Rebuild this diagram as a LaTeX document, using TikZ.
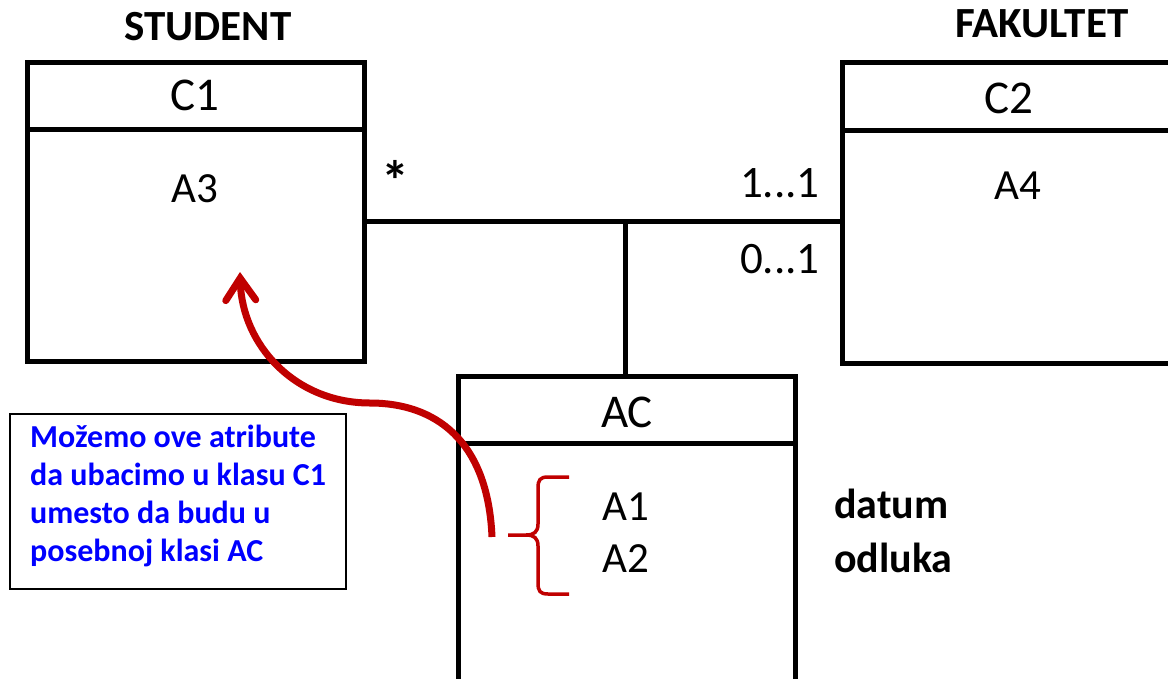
\documentclass[tikz,border=0pt]{standalone}
\usepackage{fontspec}
\setmainfont{Carlito}
\usetikzlibrary{arrows.meta}
\definecolor{darkred}{RGB}{192,0,0}
\definecolor{noteblue}{RGB}{0,0,255}
\tikzset{
  box/.style={draw=black,line width=5pt,line join=miter},
  conn/.style={draw=black,line width=5pt},
  cname/.style={inner sep=0pt,anchor=base,font=\fontsize{47}{52}\selectfont},
  attr/.style={inner sep=0pt,anchor=base,font=\fontsize{43}{48}\selectfont},
  title/.style={inner sep=0pt,anchor=base,font=\bfseries\fontsize{43}{48}\selectfont},
  mult/.style={inner sep=0pt,anchor=base east,font=\fontsize{45}{50}\selectfont},
  extra/.style={inner sep=0pt,anchor=base west,font=\bfseries\fontsize{42}{48}\selectfont},
  redline/.style={draw=darkred,line width=7pt},
  bracestyle/.style={draw=darkred,line width=3.5pt},
}
\begin{document}
\begin{tikzpicture}[x=1pt,y=-1pt]
\useasboundingbox (0,0) rectangle (1168,678);
\clip (0,0) rectangle (1168,678);
% class boxes
\draw[box] (27,62) rectangle (364,361);
\draw[box] (27,129) -- (364,129);
\draw[box] (842,62) rectangle (1190,363);
\draw[box] (842,130) -- (1190,130);
\draw[box] (458,376) rectangle (795,700);
\draw[box] (458,443) -- (795,443);
% association anchors
\coordinate (c1r) at (364,221);
\coordinate (c2l) at (842,221);
\coordinate (mid) at (625,221);
\coordinate (actop) at (625,376);
\draw[conn] (c1r) -- (c2l);
\draw[conn] (mid) -- (actop);
% titles
\node[title] (student) at (208,40) {STUDENT};
\node[title] (fakultet) at (1042,37) {FAKULTET};
% class names and attributes
\node[cname] (c1) at (195,110) {C1};
\node[attr] (a3) at (195,202) {A3};
\node[cname] (c2) at (1009,113) {C2};
\node[attr] (a4) at (1018,199) {A4};
\node[cname] (ac) at (627,427) {AC};
\node[attr] (a1) at (626,520) {A1};
\node[attr] (a2) at (626,572) {A2};
% multiplicities
\node[inner sep=0pt,font=\bfseries\fontsize{56}{60}\selectfont] (star) at (395,180) {*};
\node[mult] (m11) at (820,197) {1...1};
\node[mult] (m01) at (820,273) {0...1};
% extra attributes
\node[extra] (datum) at (834,518) {datum};
\node[extra] (odluka) at (834,572) {odluka};
% note box
\draw[black,line width=2.5pt] (10,414) rectangle (346,589);
\node[inner sep=0pt,anchor=north west,align=left,text=noteblue,
  font=\bfseries\fontsize{32}{38}\selectfont] (note) at (30,425)
  {Možemo ove atribute\\da ubacimo u klasu C1\\umesto da budu u\\posebnoj klasi AC};
% brace
\draw[bracestyle,line cap=butt] (569,477) -- (548,477) .. controls (540,477) and (538,480) .. (538,488)
  -- (538,524) .. controls (538,532) and (534,535) .. (526,535) -- (508,535);
\draw[bracestyle,line cap=butt] (569,594) -- (548,594) .. controls (540,594) and (538,591) .. (538,583)
  -- (538,546) .. controls (538,538) and (534,535) .. (526,535);
% red arrow
\coordinate (arrstart) at (492,537);
\coordinate (arrtip) at (240,272);
\draw[redline,-{Straight Barb[length=22pt,width=30pt,line cap=round]}]
  (arrstart) .. controls (488,440) and (435,403) .. (370,403)
  .. controls (295,403) and (242,345) .. (arrtip);
\end{tikzpicture}
\end{document}
